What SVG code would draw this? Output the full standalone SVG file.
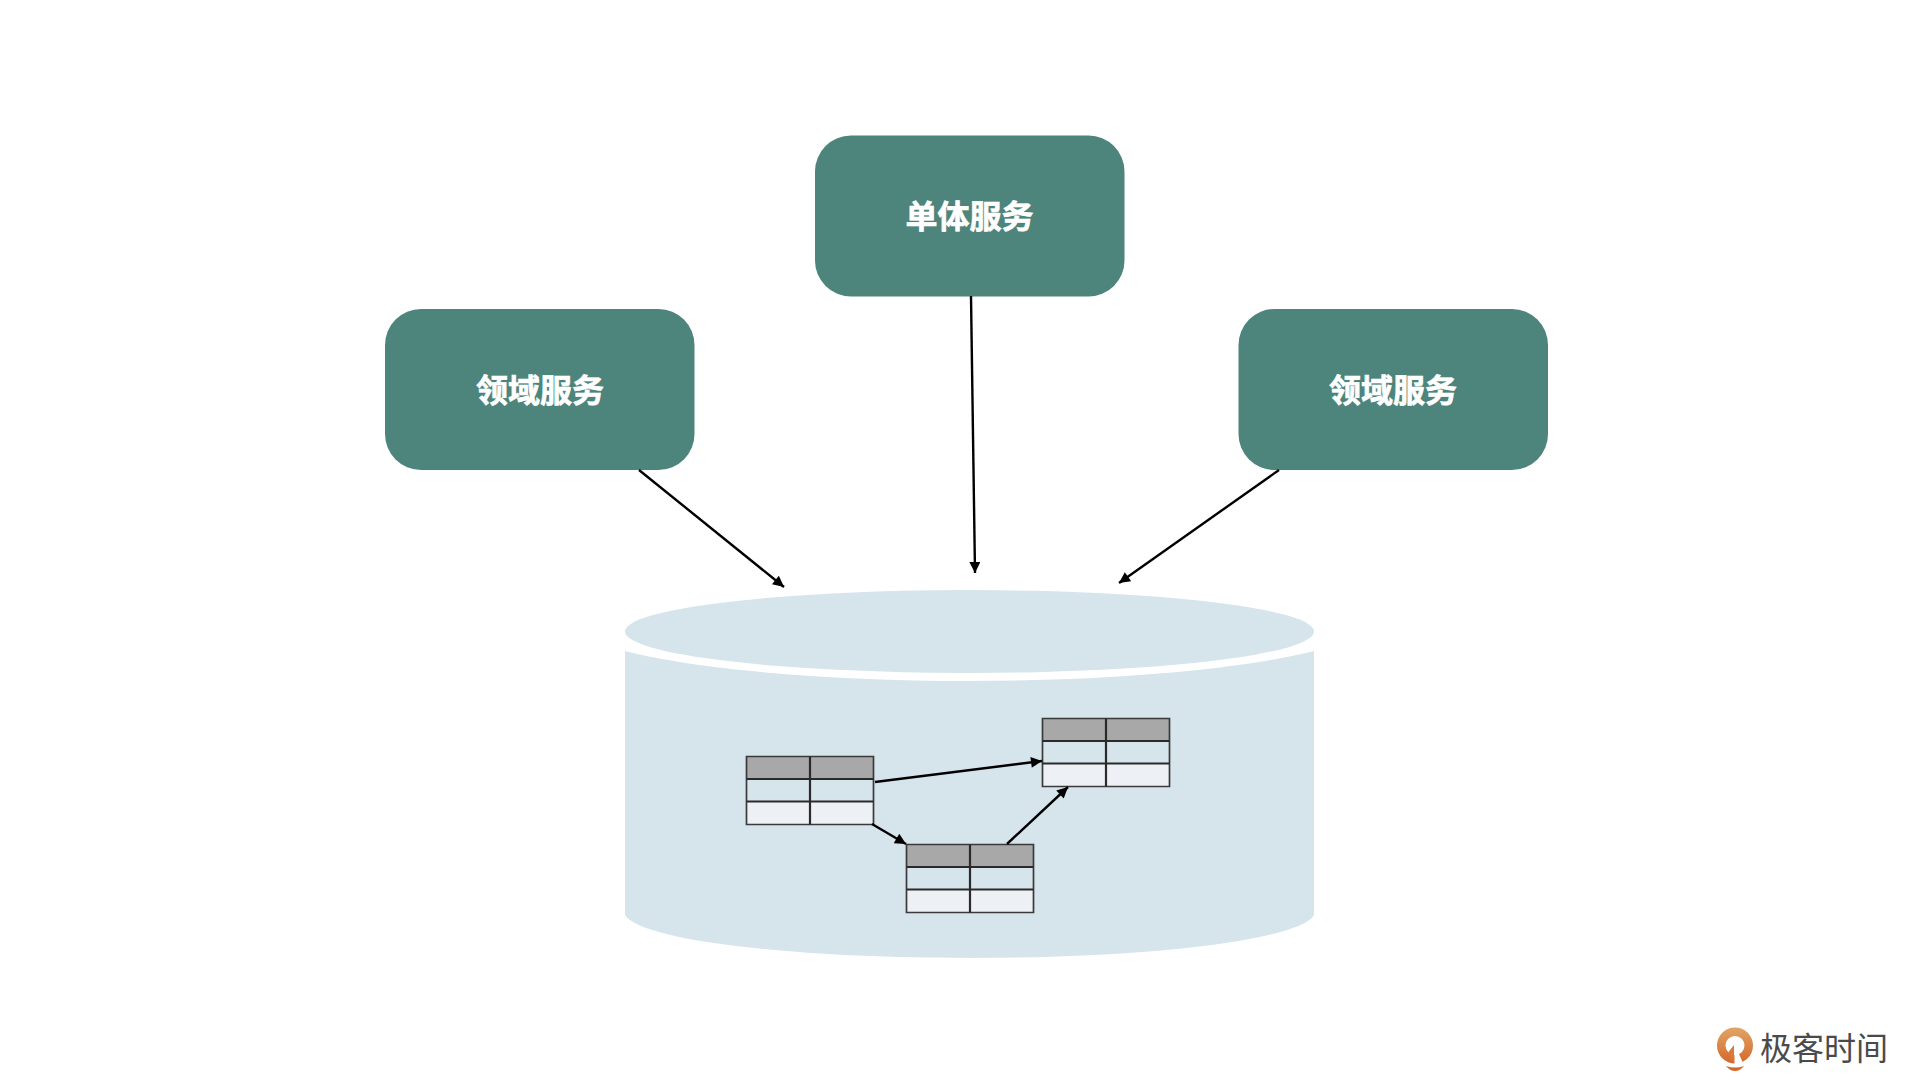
<svg xmlns="http://www.w3.org/2000/svg" width="1920" height="1090" viewBox="0 0 1920 1090">
<style>
.box{fill:#4d847c}
.lbl{font-family:"Noto Sans CJK SC","Noto Sans",sans-serif;font-weight:700;font-size:32px;fill:#fff;stroke:#fff;stroke-width:.7;text-anchor:middle}
.cyl{fill:#d6e4ec}
.c{stroke:#000;stroke-width:2.400;fill:none;marker-end:url(#a)}
.h{fill:#a8a8a8}.r{fill:#d6e4ec}.l{fill:#edf1f5}
.g{fill:none;stroke:#3a3a3a;stroke-width:1.700}
.g2{fill:none;stroke:#2a2a2a;stroke-width:2.200}
</style>
<defs>
<marker id="a" viewBox="0 0 10 10" refX="10" refY="5" markerWidth="13" markerHeight="11" markerUnits="userSpaceOnUse" orient="auto"><path d="M0 0L10 5L0 10Z" fill="#000"/></marker>
<linearGradient id="o" x1="0" y1="0" x2="0" y2="1"><stop offset="0" stop-color="#e2a566"/><stop offset="1" stop-color="#d4682c"/></linearGradient>
<g id="t">
<rect width="127" height="22.500" class="h"/><rect y="22.500" width="127" height="22.500" class="r"/><rect y="45" width="127" height="23" class="l"/>
<path class="g" d="M0 0H127V68H0Z"/><path class="g2" d="M0 22.500H127M0 45H127M63.500 0V68"/>
</g>
</defs>
<rect width="1920" height="1090" fill="#fff"/>
<g id="node-db">
<path class="cyl" d="M625 651C700 670 830 681 969.500 681C1109 681 1239 670 1314 651V915C1300 940 1150 958 969.500 958C789 958 640 940 625 915Z"/>
<ellipse class="cyl" cx="969.500" cy="631.500" rx="344.500" ry="41.500"/>
</g>
<g id="node-table-1"><use href="#t" x="746.500" y="756.500"/></g>
<g id="node-table-2"><use href="#t" x="1042.500" y="718.500"/></g>
<g id="node-table-3"><use href="#t" x="906.500" y="844.500"/></g>
<g id="node-monolith"><rect class="box" x="815" y="135.500" width="309.500" height="161" rx="36"/><text class="lbl" x="969.500" y="228">单体服务</text></g>
<g id="node-domain-left"><rect class="box" x="385" y="309" width="309.500" height="161" rx="36"/><text class="lbl" x="540" y="402">领域服务</text></g>
<g id="node-domain-right"><rect class="box" x="1238.500" y="309" width="309.500" height="161" rx="36"/><text class="lbl" x="1393" y="402">领域服务</text></g>
<g id="connectors">
<path class="c" d="M639 470L784 587"/>
<path class="c" d="M971 296L975 573"/>
<path class="c" d="M1279 470L1119 583"/>
<path class="c" d="M875 782L1042 761"/>
<path class="c" d="M872 824L906 844"/>
<path class="c" d="M1007 844L1068 787"/>
</g>
<g id="logo">
<path fill="url(#o)" fill-rule="evenodd" d="M1717 1045.500a18 18 0 1 0 36 0a18 18 0 1 0 -36 0zM1725.500 1045.500a9.500 9.500 0 1 1 19 0a9.500 9.500 0 1 1 -19 0z"/>
<path fill="#d9783a" d="M1734 1045L1734 1062L1727 1054Z"/>
<path fill="#fff" d="M1734.500 1054L1738 1052L1744 1065L1734.500 1065Z"/>
<path fill="#d4682c" d="M1726 1066q9 3 18 0q-4 5 -9 5t-9 -5z"/>
<text x="1760" y="1060" font-family="'Noto Sans CJK SC',sans-serif" font-size="32" font-weight="400" fill="#4a4a4a">极客时间</text>
</g>
</svg>
